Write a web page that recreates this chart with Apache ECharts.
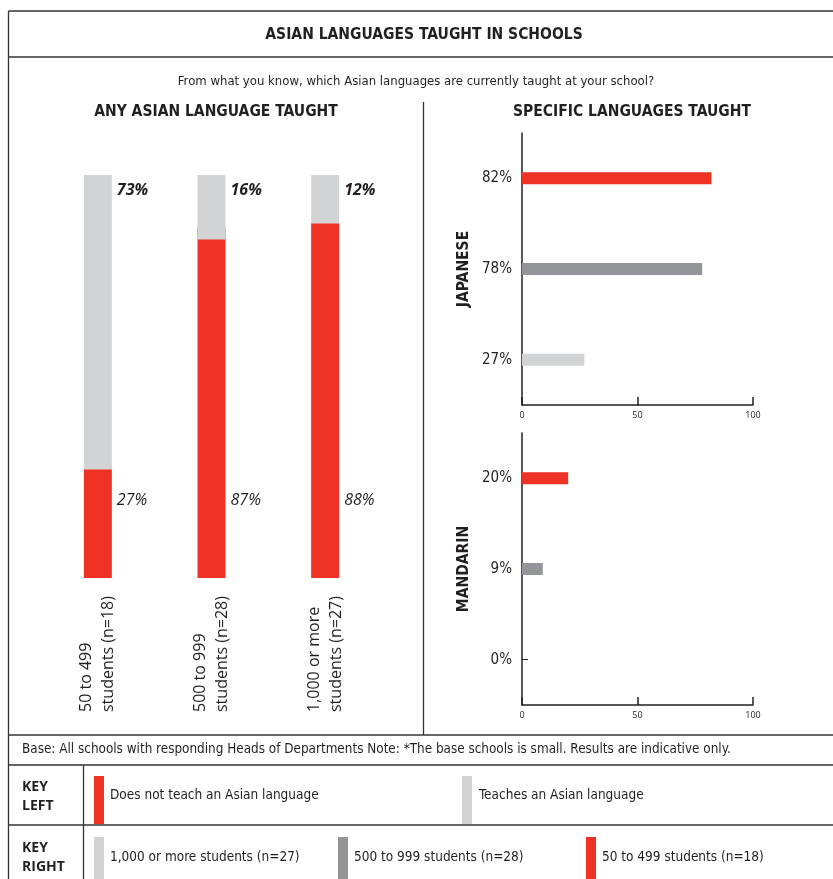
<!DOCTYPE html>
<html>
<head>
    <meta charset="utf-8">
    <title>Asian languages taught in schools</title>
    <script src="https://cdn.jsdelivr.net/npm/echarts@6/dist/echarts.min.js"></script>
    <style>
        html, body { margin: 0; padding: 0; background: #fff; }
        #charts { width: 833px; height: 879px; }
    </style>
</head>
<body>
<div id="charts"></div>
<script type="text/javascript">
// left panel
var sizes = ['50 to 499\nstudents (n=18)', '500 to 999\nstudents (n=28)', '1,000 or more\nstudents (n=27)'];
var notTeach = [27, 87, 88];
var teach = [73, 16, 12];

// right panels (bottom to top)
var rightGroups = ['1,000 or more students (n=27)', '500 to 999 students (n=28)', '50 to 499 students (n=18)'];
var japanese = [27, 78, 82];
var mandarin = [0, 9, 20];
var xTicks = [0, 50, 100];

var RED = '#EE3224', DARK = '#939598', LIGHT = '#D1D3D4', INK = '#231F20';
var rightColors = [LIGHT, DARK, RED];
var NARROW = '"Liberation Sans Narrow", "DejaVu Sans Condensed", sans-serif';
var BODY = '"Open Sans", sans-serif';

var myChart = echarts.init(document.getElementById('charts'));

function rightData(vals) {
    return vals.map(function (v, i) {
        return { value: v, itemStyle: { color: rightColors[i] } };
    });
}

function rightXAxis(idx) {
    return {
        gridIndex: idx, type: 'value', min: xTicks[0], max: xTicks[xTicks.length - 1], interval: 50,
        axisLine: { show: true, lineStyle: { color: INK, width: 1.5 } },
        axisTick: { show: true, inside: true, length: 8, lineStyle: { color: INK, width: 1.5 } },
        axisLabel: { fontSize: 9, color: INK, margin: 6, fontFamily: BODY },
        splitLine: { show: false }
    };
}

function rightYAxis(idx, name, vals) {
    return {
        gridIndex: idx, type: 'category', data: rightGroups,
        name: name, nameLocation: 'middle', nameRotate: 90, nameGap: 50,
        nameTextStyle: { fontSize: 15.5, fontWeight: 'bold', color: INK, fontFamily: NARROW },
        axisLine: { show: true, lineStyle: { color: INK, width: 1.5 } },
        axisTick: { show: true, inside: true, alignWithLabel: true, length: 6, lineStyle: { color: INK } },
        axisLabel: {
            fontSize: 15, color: INK, margin: 10, fontFamily: NARROW,
            formatter: function (v, i) { return vals[i] + '%'; }
        }
    };
}

// frame lines
var lines = [
    [8.5, 11, 833, 11], [8.5, 11, 8.5, 879], [8.5, 57, 833, 57],
    [423.5, 102, 423.5, 735], [8.5, 735, 833, 735], [8.5, 765, 833, 765],
    [8.5, 825, 833, 825], [83.5, 765, 83.5, 879]
];
var graphics = lines.map(function (l) {
    return { type: 'line', shape: { x1: l[0], y1: l[1], x2: l[2], y2: l[3] }, style: { stroke: '#333', lineWidth: 1.3 } };
});

function txt(x, y, s, size, weight, align, font) {
    return { type: 'text', x: x, y: y, style: {
        text: s, fontSize: size, fontWeight: weight || 'normal', fill: INK,
        align: align || 'left', verticalAlign: 'middle', fontFamily: font || NARROW
    } };
}
function swatch(x, y, h, c) {
    return { type: 'rect', shape: { x: x, y: y, width: 10, height: h }, style: { fill: c } };
}

graphics.push(
    txt(424, 35, 'ASIAN LANGUAGES TAUGHT IN SCHOOLS', 15.5, 'bold', 'center'),
    txt(416, 82, 'From what you know, which Asian languages are currently taught at your school?', 13, 'normal', 'center'),
    txt(216, 112, 'ANY ASIAN LANGUAGE TAUGHT', 15.5, 'bold', 'center'),
    txt(632, 112, 'SPECIFIC LANGUAGES TAUGHT', 15.5, 'bold', 'center'),
    txt(22, 750, 'Base: All schools with responding Heads of Departments Note: *The base schools is small. Results are indicative only.', 13.4),
    txt(22, 787, 'KEY', 14, 'bold', 'left', BODY),
    txt(22, 806, 'LEFT', 14, 'bold', 'left', BODY),
    txt(22, 848, 'KEY', 14, 'bold', 'left', BODY),
    txt(22, 867, 'RIGHT', 14, 'bold', 'left', BODY),
    swatch(94, 776, 48, RED), txt(110, 795, 'Does not teach an Asian language', 13.5),
    swatch(462, 776, 48, LIGHT), txt(479, 795, 'Teaches an Asian language', 13.5),
    swatch(94, 837, 42, LIGHT), txt(110, 857, rightGroups[0], 13.5),
    swatch(338, 837, 42, DARK), txt(354, 857, rightGroups[1], 13.5),
    swatch(586, 837, 42, RED), txt(602, 857, rightGroups[2], 13.5)
);

var option = {
    animation: false,
    backgroundColor: '#fff',
    textStyle: { fontFamily: BODY },
    graphic: graphics,
    grid: [
        { left: 41, top: 175, width: 341, height: 403 },
        { left: 522, top: 133, width: 231, height: 272 },
        { left: 522, top: 433, width: 231, height: 272 }
    ],
    xAxis: [
        {
            gridIndex: 0, type: 'category', data: sizes,
            axisLine: { show: false }, axisTick: { show: false },
            axisLabel: {
                rotate: 90, align: 'left', margin: 134, fontSize: 16, lineHeight: 22,
                color: INK, fontFamily: BODY, interval: 0, padding: [10, 0, 0, 0]
            }
        },
        rightXAxis(1),
        rightXAxis(2)
    ],
    yAxis: [
        { gridIndex: 0, type: 'value', min: 0, max: 100, show: false },
        // gray share hangs from the top of each bar
        { gridIndex: 0, type: 'value', min: 0, max: 100, inverse: true, show: false },
        rightYAxis(1, 'JAPANESE', japanese),
        rightYAxis(2, 'MANDARIN', mandarin)
    ],
    series: [
        {
            name: 'Does not teach an Asian language', type: 'bar',
            xAxisIndex: 0, yAxisIndex: 0, barWidth: 28, data: notTeach,
            itemStyle: { color: RED },
            label: {
                show: true, position: 'insideBottomLeft', offset: [28, -65],
                formatter: '{c}%', fontSize: 16, fontStyle: 'italic', color: INK, fontFamily: BODY
            }
        },
        {
            name: 'Teaches an Asian language', type: 'bar', z: 3,
            xAxisIndex: 0, yAxisIndex: 1, barWidth: 28, barGap: '-100%', data: teach,
            itemStyle: { color: LIGHT },
            label: {
                show: true, position: 'insideTopLeft', offset: [28, 2],
                formatter: '{c}%', fontSize: 16, fontStyle: 'italic', fontWeight: 'bold', color: INK, fontFamily: BODY
            }
        },
        {
            name: 'Japanese', type: 'bar', xAxisIndex: 1, yAxisIndex: 2,
            barWidth: 12, data: rightData(japanese)
        },
        {
            name: 'Mandarin', type: 'bar', xAxisIndex: 2, yAxisIndex: 3,
            barWidth: 12, data: rightData(mandarin)
        }
    ]
};

myChart.setOption(option);
</script>
</body>
</html>
